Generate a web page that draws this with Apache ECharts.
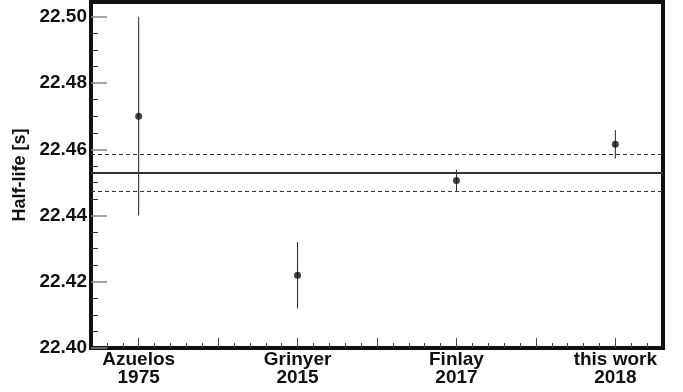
<!DOCTYPE html>
<html>
<head>
<meta charset="utf-8">
<script src="https://cdn.jsdelivr.net/npm/echarts@6/dist/echarts.min.js"></script>
<style>
html,body{margin:0;padding:0;background:#fff;}
#chart{width:683px;height:392px;}
</style>
</head>
<body>
<div id="chart"></div>
<script>
// Measurements: position on x axis, value, uncertainty
const names = ['Azuelos', 'Grinyer', 'Finlay', 'this work'];
const years = ['1975', '2015', '2017', '2018'];
const xPos = [1, 2, 3, 4];
const halfLife = [22.470, 22.422, 22.4506, 22.4615];
const halfLifeErr = [0.030, 0.010, 0.0033, 0.0043];
// Weighted average and its uncertainty
const meanValue = 22.4530;
const meanErr = 0.0056;
// Axis ticks
const yTickValues = [22.40, 22.42, 22.44, 22.46, 22.48, 22.50];
const yMinorTicks = [22.405, 22.41, 22.415, 22.425, 22.43, 22.435, 22.445, 22.45, 22.455,
  22.465, 22.47, 22.475, 22.485, 22.49, 22.495];
const xMajorTicks = [1, 1.5, 2, 2.5, 3, 3.5, 4];
const xMinorTicks = [0.8, 0.9, 1.1, 1.2, 1.3, 1.4, 1.6, 1.7, 1.8, 1.9, 2.1, 2.2, 2.3, 2.4,
  2.6, 2.7, 2.8, 2.9, 3.1, 3.2, 3.3, 3.4, 3.6, 3.7, 3.8, 3.9, 4.1, 4.2];

const FONT = "'Liberation Sans', Arial, Helvetica, sans-serif";

const pts = xPos.map((x, i) => [x, halfLife[i], halfLifeErr[i]]);

const chart = echarts.init(document.getElementById('chart'), null, {renderer: 'canvas'});
chart.setOption({
  animation: false,
  backgroundColor: '#fff',
  grid: {
    left: 91, right: 20, top: 2, bottom: 44,
    show: true, borderColor: '#111', borderWidth: 4, backgroundColor: 'transparent'
  },
  xAxis: [{
    type: 'value', min: 0.7, max: 4.3,
    axisLine: {show: false},
    splitLine: {show: false},
    axisTick: {show: true, inside: true, length: 10, customValues: xMajorTicks,
      lineStyle: {color: '#444', width: 1}},
    axisLabel: {
      customValues: xPos, margin: 3, color: '#111',
      fontFamily: FONT, fontWeight: 'bold', fontSize: 19, lineHeight: 18,
      formatter: v => {
        const i = xPos.indexOf(Math.round(v));
        return i >= 0 ? names[i] + '\n' + years[i] : '';
      }
    }
  }, {
    type: 'value', min: 0.7, max: 4.3, position: 'bottom',
    axisLine: {show: false}, splitLine: {show: false},
    axisLabel: {show: false},
    axisTick: {show: true, inside: true, length: 5, customValues: xMinorTicks,
      lineStyle: {color: '#444', width: 1}}
  }],
  yAxis: [{
    type: 'value', min: 22.40, max: 22.5045, interval: 0.02,
    name: 'Half-life [s]', nameLocation: 'middle', nameGap: 58, nameRotate: 90,
    nameTextStyle: {fontFamily: FONT, fontWeight: 'bold', fontSize: 18, color: '#111'},
    axisLine: {show: false},
    splitLine: {show: false},
    axisTick: {show: true, inside: true, length: 16, customValues: yTickValues,
      lineStyle: {color: '#888', width: 1.5}},
    axisLabel: {
      customValues: yTickValues,
      margin: 4, color: '#111', fontFamily: FONT, fontWeight: 'bold', fontSize: 19,
      formatter: v => v.toFixed(2)
    }
  }, {
    type: 'value', min: 22.40, max: 22.5045, position: 'left',
    axisLine: {show: false}, splitLine: {show: false},
    axisLabel: {show: false},
    axisTick: {show: true, inside: true, length: 7, customValues: yMinorTicks,
      lineStyle: {color: '#333', width: 1}}
  }],
  series: [{
    type: 'custom',
    xAxisIndex: 0, yAxisIndex: 0,
    data: pts,
    encode: {x: 0, y: 1},
    renderItem: (params, api) => {
      const x = api.value(0), y = api.value(1), e = api.value(2);
      const p1 = api.coord([x, y - e]);
      const p2 = api.coord([x, y + e]);
      return {
        type: 'line',
        shape: {x1: p1[0], y1: p1[1], x2: p2[0], y2: p2[1]},
        style: {stroke: '#222', lineWidth: 1}
      };
    },
    z: 2
  }, {
    type: 'scatter',
    xAxisIndex: 0, yAxisIndex: 0,
    data: pts.map(p => [p[0], p[1]]),
    symbol: 'circle', symbolSize: 7,
    itemStyle: {color: '#111'},
    z: 3,
    markLine: {
      silent: true, symbol: 'none', label: {show: false}, precision: 5,
      data: [
        {yAxis: meanValue, lineStyle: {type: 'solid', color: '#333', width: 2}},
        {yAxis: meanValue + meanErr, lineStyle: {type: [4, 3], color: '#333', width: 1}},
        {yAxis: meanValue - meanErr, lineStyle: {type: [4, 3], color: '#333', width: 1}}
      ]
    }
  }]
});
</script>
</body>
</html>
